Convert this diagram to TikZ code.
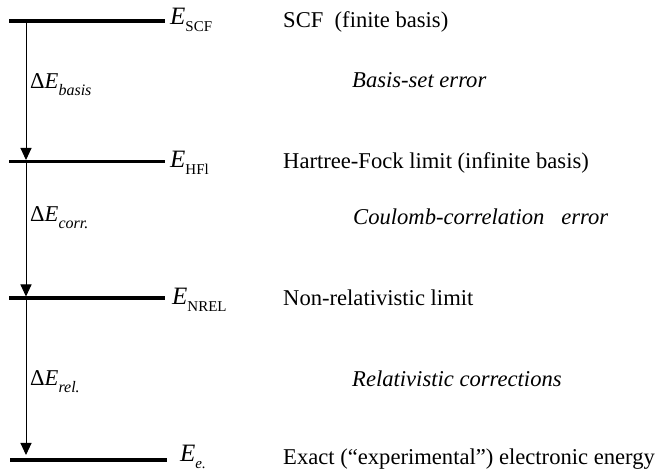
\documentclass[tikz,border=0pt]{standalone}
\usepackage{fontspec}
\setmainfont{Liberation Serif}
\usetikzlibrary{arrows.meta}
\newcommand{\lowsub}[2][15]{\raisebox{-0.28em}{\fontsize{#1}{#1}\selectfont #2}}
\begin{document}
\begin{tikzpicture}[x=1pt,y=-1pt]
   \tikzset{level/.style = {line width=3.5pt},
            gap/.style = {line width=1pt,-{Triangle[length=12pt,width=11pt]}},
            elabel/.style = {anchor=base west,inner sep=0pt,font=\fontsize{25}{28}\selectfont},
            desc/.style = {anchor=base west,inner sep=0pt,font=\fontsize{22.6}{26}\selectfont},
            err/.style = {desc,font=\fontsize{22.6}{26}\selectfont\itshape}}
   \useasboundingbox (0,0) rectangle (657,470);

   \coordinate (scf-l) at (9,21);
   \coordinate (scf-r) at (165,21);
   \coordinate (hfl-l) at (9,161.5);
   \coordinate (hfl-r) at (165,161.5);
   \coordinate (nrel-l) at (9,298);
   \coordinate (nrel-r) at (165,298);
   \coordinate (exact-l) at (10,460);
   \coordinate (exact-r) at (167,460);

   \coordinate (scf-a) at (26,21);
   \coordinate (hfl-a) at (26,160);
   \coordinate (nrel-a) at (26,296.5);
   \coordinate (exact-a) at (26,455);

   \node[elabel] (escf) at (170,25) {\textit{E}\lowsub{SCF}};
   \node[elabel] (ehfl) at (170,168) {\textit{E}\lowsub{HFl}};
   \node[elabel] (enrel) at (172,305) {\textit{E}\lowsub{NREL}};
   \node[elabel] (eexact) at (180,462) {\textit{E}\lowsub{\textit{e.}}};

   \node[desc] (scf) at (283,28) {SCF\ \ (finite basis)};
   \node[desc] (hfl) at (283,169) {Hartree-Fock limit (infinite basis)};
   \node[desc] (nrel) at (283,306) {Non-relativistic limit};
   \node[desc] (exact) at (283,465) {Exact (“experimental”) electronic energy};

   \node[err] (basis) at (352,88) {Basis-set error};
   \node[err] (corr) at (353,225) {Coulomb-correlation\ \ \ error};
   \node[err] (rel) at (352,387) {Relativistic corrections};

   \node[desc] (dbasis) at (30,89) {Δ\textit{E}\lowsub[16]{\textit{basis}}};
   \node[desc] (dcorr) at (30,222) {Δ\textit{E}\lowsub[16]{\textit{corr.}}};
   \node[desc] (drel) at (30,386) {Δ\textit{E}\lowsub[16]{\textit{rel.}}};

   \draw[level] (scf-l) -- (scf-r);
   \draw[level] (hfl-l) -- (hfl-r);
   \draw[level] (nrel-l) -- (nrel-r);
   \draw[level] (exact-l) -- (exact-r);

   \draw[gap] (scf-a) -- (hfl-a);
   \draw[gap] (hfl-a) -- (nrel-a);
   \draw[gap] (nrel-a) -- (exact-a);
\end{tikzpicture}
\end{document}
